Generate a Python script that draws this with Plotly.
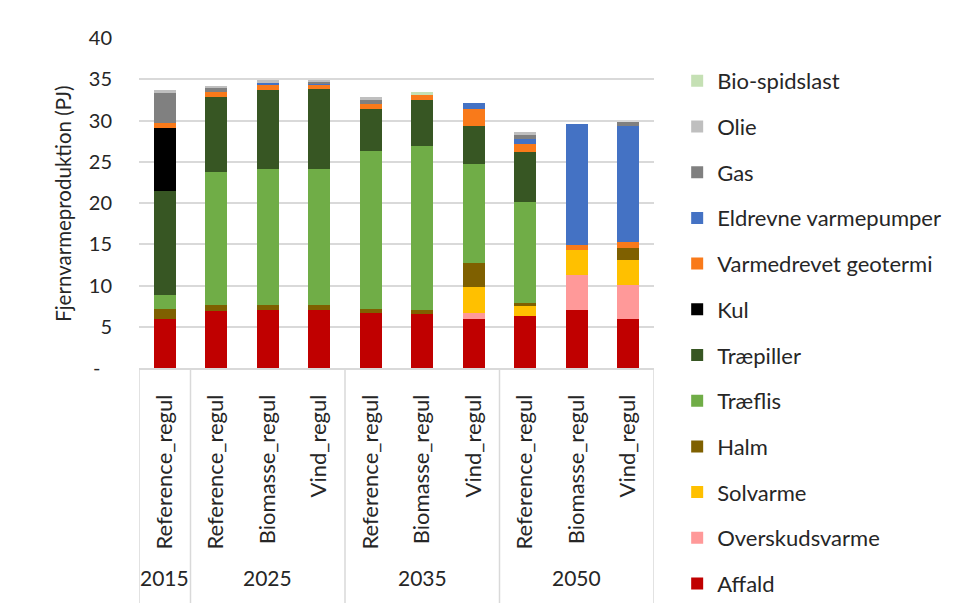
import plotly.graph_objects as go

# Scenario labels (inner level) and year groups (outer level)
scenarios = ["Reference_regul", "Reference_regul", "Biomasse_regul", "Vind_regul",
             "Reference_regul", "Biomasse_regul", "Vind_regul",
             "Reference_regul", "Biomasse_regul", "Vind_regul"]
years = ["2015", "2025", "2035", "2050"]
year_sizes = [1, 3, 3, 3]

# District heating production by fuel (PJ), stacked from bottom to top
affald = [5.98, 6.90, 6.99, 6.99, 6.66, 6.50, 5.94, 6.34, 7.07, 5.94]
overskudsvarme = [0, 0, 0, 0, 0, 0, 0.72, 0, 4.20, 4.16]
solvarme = [0, 0, 0, 0, 0, 0, 3.11, 1.25, 2.99, 3.03]
halm = [1.21, 0.74, 0.69, 0.69, 0.53, 0.57, 2.99, 0.24, 0, 1.45]
traeflis = [1.61, 16.16, 16.49, 16.49, 19.07, 19.79, 12.00, 12.33, 0, 0]
traepiller = [12.65, 9.00, 9.53, 9.61, 5.09, 5.58, 4.61, 5.98, 0, 0]
kul = [7.60, 0, 0, 0, 0, 0, 0, 0, 0, 0]
geotermi = [0.68, 0.61, 0.65, 0.61, 0.61, 0.65, 2.02, 1.01, 0.60, 0.73]
varmepumper = [0, 0, 0.24, 0.10, 0, 0, 0.77, 0.56, 14.71, 13.98]
gas = [3.60, 0.53, 0, 0.15, 0.56, 0, 0, 0.65, 0, 0.56]
olie = [0.36, 0.24, 0.28, 0.28, 0.32, 0, 0, 0.24, 0, 0]
bio_spidslast = [0, 0, 0, 0, 0, 0.32, 0, 0, 0, 0]

series = [
    ("Affald", affald, "#C00000"),
    ("Overskudsvarme", overskudsvarme, "#FF9999"),
    ("Solvarme", solvarme, "#FFC000"),
    ("Halm", halm, "#7F6000"),
    ("Træflis", traeflis, "#70AD47"),
    ("Træpiller", traepiller, "#375623"),
    ("Kul", kul, "#000000"),
    ("Varmedrevet geotermi", geotermi, "#F97A1A"),
    ("Eldrevne varmepumper", varmepumper, "#4472C4"),
    ("Gas", gas, "#808080"),
    ("Olie", olie, "#BFBFBF"),
    ("Bio-spidslast", bio_spidslast, "#C5E0B4"),
]

y_ticks = [0, 5, 10, 15, 20, 25, 30, 35, 40]
y_ticktext = ["-\u2007"] + [str(v) for v in y_ticks[1:]]
y_title = "Fjernvarmeproduktion (PJ)"

FONT = "Lato"
TXT = "#262626"
GRID = "#D9D9D9"

xs = list(range(len(scenarios)))
fig = go.Figure()
n_series = len(series)
for i, (name, vals, color) in enumerate(series):
    fig.add_trace(go.Bar(
        x=xs, y=vals, name=name, legendgroup=name,
        legendrank=n_series - i,  # top segment listed first
        marker=dict(color=color, line=dict(width=0)),
    ))

# Plot area geometry (pixels) used to place the category frame below the axis
plot_top, plot_bottom = 38, 368.3
plot_h = plot_bottom - plot_top
fig_h = 603

shapes = []
# Group dividers spanning both label rows
edges = [-0.5]
acc = -0.5
for n in year_sizes:
    acc += n
    edges.append(acc)
for xe in edges:
    shapes.append(dict(type="line", xref="x", yref="paper",
                       x0=xe, x1=xe, y0=0, y1=-(fig_h - plot_bottom + 5) / plot_h,
                       line=dict(color=GRID, width=1.5)))

annotations = []
start = 0
for yr, n in zip(years, year_sizes):
    center = start + (n - 1) / 2
    annotations.append(dict(
        x=center, xref="x", y=-(578 - plot_bottom) / plot_h, yref="paper",
        text=yr, showarrow=False, xanchor="center", yanchor="middle",
        font=dict(family=FONT, size=21, color=TXT),
    ))
    start += n

# Vertical axis title
annotations.append(dict(
    x=0, xref="paper", xshift=-62, xanchor="right",
    y=(plot_bottom - 204) / plot_h, yref="paper", yanchor="middle",
    text=y_title, textangle=-90, showarrow=False,
    font=dict(family=FONT, size=20.5, color=TXT),
))

fig.update_layout(
    width=974, height=603,
    margin=dict(l=139, r=320, t=plot_top, b=fig_h - plot_bottom, autoexpand=False),
    paper_bgcolor="white", plot_bgcolor="white",
    barmode="stack", bargap=0.573,
    font=dict(family=FONT, size=20, color=TXT),
    showlegend=True,
    legend=dict(
        x=1.045, xanchor="left", y=(plot_bottom - 60) / plot_h, yanchor="top",
        traceorder="grouped", tracegroupgap=14.1,
        font=dict(family=FONT, size=22, color=TXT),
        itemwidth=30, bgcolor="rgba(0,0,0,0)", maxheight=700,
    ),
    shapes=shapes,
    annotations=annotations,
)

fig.update_xaxes(
    range=[-0.5, 9.5], tickmode="array", tickvals=xs, ticktext=scenarios,
    tickangle=-90, ticks="", ticklabelstandoff=16, automargin=False,
    tickfont=dict(family=FONT, size=22, color=TXT),
    showline=True, linecolor=GRID, linewidth=1.5,
    showgrid=False, zeroline=False, fixedrange=True,
)
fig.update_yaxes(
    range=[0, 40], tickmode="array", tickvals=y_ticks, ticktext=y_ticktext,
    ticks="", ticklabelstandoff=26, automargin=False,
    showgrid=True, gridcolor=GRID, gridwidth=1.5, zeroline=False,
    tickfont=dict(family=FONT, size=20, color=TXT),
)

fig.write_html("out.html")
